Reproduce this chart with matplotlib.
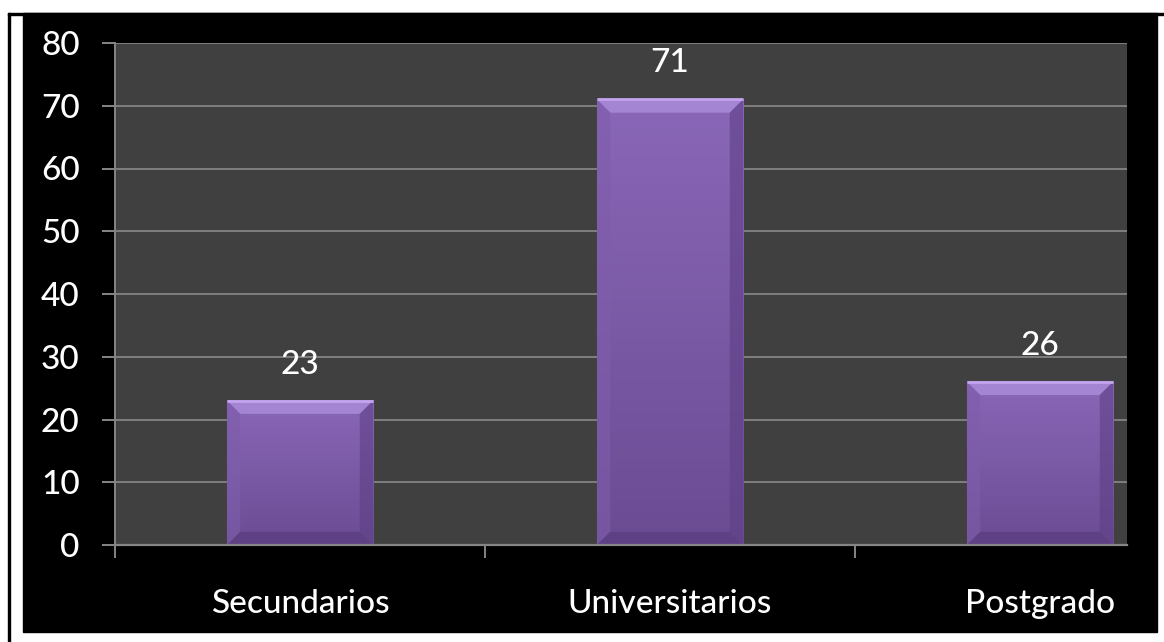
import numpy as np
import matplotlib.pyplot as plt
from matplotlib.patches import Rectangle, Polygon
from matplotlib.colors import LinearSegmentedColormap

# datos
categorias = ["Secundarios", "Universitarios", "Postgrado"]
valores = [23, 71, 26]
yticks = [0, 10, 20, 30, 40, 50, 60, 70, 80]

plt.rcParams['font.family'] = ['Lato', 'DejaVu Sans']
plt.rcParams['font.weight'] = 'medium'

fig = plt.figure(figsize=(11.64, 6.42), dpi=100)
fig.patch.set_facecolor("white")

# marco negro de fondo y bordes finos
W, H = 1164, 642
fig.patches.append(Rectangle((23 / W, 10 / H), (1157 - 23) / W, (632 - 13) / H,
                             transform=fig.transFigure, color="black", zorder=-10))
fig.patches.append(Rectangle((8 / W, 0), 2 / W, (642 - 13) / H,
                             transform=fig.transFigure, color="black", zorder=-9))
fig.patches.append(Rectangle((8 / W, (642 - 15) / H), (W - 8) / W, 2 / H,
                             transform=fig.transFigure, color="black", zorder=-9))

ax = fig.add_axes([115 / W, 97 / H, (1127 - 115) / W, (545 - 43) / H])
ax.set_facecolor("#404040")

gris = "#858585"
ancho = 0.395
xlim = (-0.5, -0.5 + (1127 - 115) / 370)

# rejilla
ax.set_yticks(yticks)
ax.yaxis.grid(True, color="#7f7f7f", linewidth=1.4)
ax.set_axisbelow(True)

cmap = LinearSegmentedColormap.from_list("cara", ["#8a67b8", "#6b4c93"])
bx = 0.036  # bisel horizontal
by = 2.1    # bisel vertical

for i, v in enumerate(valores):
    x0, x1 = i - ancho / 2, i + ancho / 2
    # cara con degradado (claro arriba, oscuro abajo)
    grad = np.linspace(0, 1, 100).reshape(-1, 1)
    ax.imshow(grad, extent=(x0, x1, 0, v), cmap=cmap, aspect="auto",
              origin="upper", zorder=2)
    # biseles
    ax.add_patch(Polygon([(x0, v), (x1, v), (x1 - bx, v - by), (x0 + bx, v - by)],
                         closed=True, color="#a485d4", lw=0, zorder=3))
    ax.add_patch(Polygon([(x0, v), (x0 + bx, v - by), (x0 + bx, by), (x0, 0)],
                         closed=True, color="#7e5dab", alpha=0.6, lw=0, zorder=3))
    ax.add_patch(Polygon([(x1, v), (x1 - bx, v - by), (x1 - bx, by), (x1, 0)],
                         closed=True, color="#5d4085", alpha=0.6, lw=0, zorder=3))
    ax.add_patch(Polygon([(x0, 0), (x1, 0), (x1 - bx, by), (x0 + bx, by)],
                         closed=True, color="#5e4184", lw=0, zorder=3))
    ax.plot([x0, x1], [v, v], color="#c4a4ee", lw=2, zorder=4,
            solid_capstyle="butt")
    ax.annotate(str(v), (i, v), xytext=(0, 26), textcoords="offset points",
                ha="center", va="center", color="white", fontsize=24)

ax.set_xlim(xlim)
ax.set_ylim(0, 80)

# ejes
for s in ["top", "right"]:
    ax.spines[s].set_visible(False)
ax.spines["left"].set_color(gris)
ax.spines["bottom"].set_color(gris)
ax.spines["left"].set_linewidth(1.4)
ax.spines["bottom"].set_linewidth(1.6)
ax.spines["bottom"].set_zorder(5)

ax.set_xticks([-0.5, 0.5, 1.5])
ax.set_xticklabels([])
ax.set_xticks(range(len(categorias)), minor=True)
ax.set_xticklabels(categorias, minor=True)
ax.tick_params(axis="x", which="major", length=9, width=1.4, color=gris)
ax.tick_params(axis="x", which="minor", length=0, pad=32, labelsize=24,
               labelcolor="white")
ax.tick_params(axis="y", length=9.4, width=1.4, color=gris, pad=16,
               labelsize=24, labelcolor="white")

fig.savefig("out.png", dpi=100, facecolor=fig.get_facecolor())
